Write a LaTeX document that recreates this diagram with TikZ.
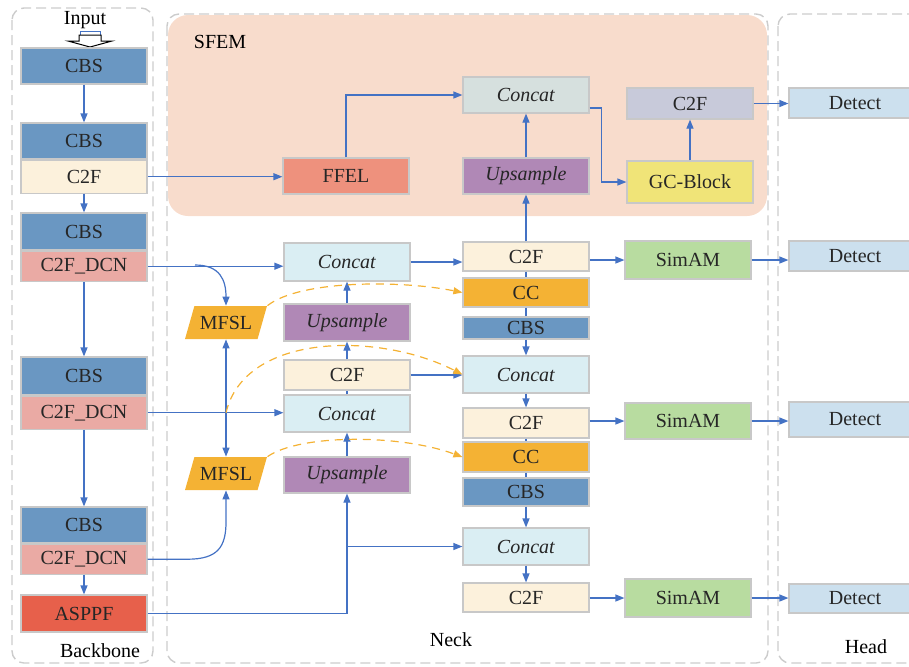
\documentclass[tikz,border=0pt]{standalone}
\usepackage{fontspec}
\setmainfont{Liberation Serif}
\usetikzlibrary{arrows.meta,positioning,shapes.geometric}

\definecolor{lineblue}{RGB}{68,114,196}
\definecolor{boxgray}{RGB}{200,200,200}
\definecolor{framegray}{RGB}{204,204,204}
\definecolor{sfembg}{RGB}{248,220,204}
\definecolor{cbsblue}{RGB}{106,151,194}
\definecolor{c2fcream}{RGB}{252,241,220}
\definecolor{dcnpink}{RGB}{234,170,164}
\definecolor{asppfred}{RGB}{231,96,75}
\definecolor{ffelred}{RGB}{238,145,125}
\definecolor{cattop}{RGB}{214,224,222}
\definecolor{catblue}{RGB}{218,238,243}
\definecolor{uppurple}{RGB}{176,136,182}
\definecolor{gcyellow}{RGB}{240,228,120}
\definecolor{c2flav}{RGB}{200,202,218}
\definecolor{ccorange}{RGB}{244,178,52}
\definecolor{simgreen}{RGB}{184,220,160}
\definecolor{detblue}{RGB}{204,224,238}

\begin{document}
\begin{tikzpicture}[x=0.5pt,y=-0.5pt,
  font=\fontsize{10}{12}\selectfont,
  blk/.style={draw=boxgray, line width=0.6pt, minimum width=63pt, inner sep=0pt, text=black!85},
  detbox/.style={blk, fill=detblue, minimum width=66pt},
  para/.style={trapezium, trapezium left angle=60, trapezium right angle=120, trapezium stretches=true,
    minimum width=41pt, minimum height=16.5pt, inner sep=0pt, fill=ccorange, text=black!85},
  frame/.style={draw=framegray, line width=0.7pt, dash pattern=on 5pt off 2.5pt, rounded corners=6pt},
  plain/.style={draw=lineblue, line width=0.6pt},
  arr/.style={plain, -{Triangle[length=4.5pt,width=3.5pt]}},
  biarr/.style={plain, {Triangle[length=4.5pt,width=3.5pt]}-{Triangle[length=4.5pt,width=3.5pt]}},
  dasharr/.style={draw=ccorange, line width=0.6pt, dash pattern=on 4pt off 3pt, -{Triangle[length=4.5pt,width=3.5pt]}}
]
\useasboundingbox (0,0) rectangle (909,666);
\clip (0,0) rectangle (909,666);

% SFEM panel and frames
\fill[sfembg, rounded corners=10pt] (168,15) rectangle (767,216);
\draw[frame] (12,8) rectangle (153,663);
\draw[frame] (167,14) rectangle (768,663);
\draw[frame] (778,14) rectangle (940,663);
\node (sfem) at (220,42) {SFEM};
\node (bb) at (100,651) {Backbone};
\node (nk) at (451,640) {Neck};
\node (hd) at (866,647) {Head};

% Backbone
\node (input) at (85,20) {Input};
\draw[lineblue, fill=white, line width=0.5pt] (80,31) rectangle (100,35);
\draw[fill=white, line width=0.5pt] (79,35) -- (101,35) -- (101,41) -- (112,41) -- (90,47) -- (68,41) -- (79,41) -- cycle;
\node[blk, fill=cbsblue, minimum height=18pt] (cbs1) at (84,66) {CBS};
\node[blk, fill=cbsblue, minimum height=18pt] (cbs2) at (84,141) {CBS};
\node[blk, fill=c2fcream, minimum height=16.5pt, below=0pt of cbs2] (c2f1) {C2F};
\node[blk, fill=cbsblue, minimum height=18.5pt] (cbs3) at (84,231.5) {CBS};
\node[blk, fill=dcnpink, minimum height=15pt, below=0pt of cbs3] (dcn1) {C2F\_DCN};
\node[blk, fill=cbsblue, minimum height=19pt] (cbs4) at (84,376) {CBS};
\node[blk, fill=dcnpink, minimum height=16.5pt, below=0pt of cbs4] (dcn2) {C2F\_DCN};
\node[blk, fill=cbsblue, minimum height=18pt] (cbs5) at (84,525) {CBS};
\node[blk, fill=dcnpink, minimum height=15pt, below=0pt of cbs5] (dcn3) {C2F\_DCN};
\node[blk, fill=asppfred, minimum height=18.5pt] (asppf) at (84,613.5) {ASPPF};

\draw[arr] (cbs1) -- (cbs2);
\draw[arr] (c2f1) -- (cbs3);
\draw[arr] (dcn1) -- (cbs4);
\draw[arr] (dcn2) -- (cbs5);
\draw[arr] (dcn3) -- (asppf);

% Neck, left column
\node[blk, fill=ffelred, minimum height=18pt] (ffel) at (346,176) {FFEL};
\node[blk, fill=catblue, minimum height=19pt] (cat1) at (347,262) {\textit{Concat}};
\node[blk, fill=uppurple, minimum height=18.5pt] (up1) at (347,322.5) {\textit{Upsample}};
\node[blk, fill=c2fcream, minimum height=15pt] (c2fm) at (347,375) {C2F};
\node[blk, fill=catblue, minimum height=18.5pt] (cat2) at (347,413.5) {\textit{Concat}};
\node[blk, fill=uppurple, minimum height=18pt] (up2) at (347,475) {\textit{Upsample}};
\node[para] (mfsl1) at (226,322.5) {MFSL};
\node[para] (mfsl2) at (226,473.5) {MFSL};

% Neck, middle column
\node[blk, fill=cattop, minimum height=18pt] (cat0) at (526,95) {\textit{Concat}};
\node[blk, fill=uppurple, minimum height=18pt] (up0) at (526,176) {\textit{Upsample}};
\node[blk, fill=c2fcream, minimum height=14.5pt] (c2fa) at (526,256.5) {C2F};
\node[blk, fill=ccorange, minimum height=14.5pt] (cca) at (526,292.5) {CC};
\node[blk, fill=cbsblue, minimum height=11pt] (cbsa) at (526,328) {CBS};
\node[blk, fill=catblue, minimum height=18.5pt] (catb) at (526,374.5) {\textit{Concat}};
\node[blk, fill=c2fcream, minimum height=15pt] (c2fb) at (526,423) {C2F};
\node[blk, fill=ccorange, minimum height=15pt] (ccb) at (526,457) {CC};
\node[blk, fill=cbsblue, minimum height=14pt] (cbsb) at (526,492) {CBS};
\node[blk, fill=catblue, minimum height=18.5pt] (catc) at (526,546.5) {\textit{Concat}};
\node[blk, fill=c2fcream, minimum height=14.5pt] (c2fc) at (526,597.5) {C2F};

% Neck, right column
\node[blk, fill=c2flav, minimum height=15.5pt] (c2ft) at (690,103.5) {C2F};
\node[blk, fill=gcyellow, minimum height=21pt] (gc) at (690,182) {GC-Block};
\node[blk, fill=simgreen, minimum height=19pt] (sim1) at (688,260) {SimAM};
\node[blk, fill=simgreen, minimum height=18pt] (sim2) at (688,421) {SimAM};
\node[blk, fill=simgreen, minimum height=19pt] (sim3) at (688,598) {SimAM};

% Head
\node[detbox, minimum height=15pt] (det0) at (855,103) {Detect};
\node[detbox, minimum height=15pt] (det1) at (855,256) {Detect};
\node[detbox, minimum height=17.5pt] (det2) at (855,419.5) {Detect};
\node[detbox, minimum height=14.5pt] (det3) at (855,598.5) {Detect};

% SFEM connections
\draw[arr] (c2f1.east) -- (c2f1.east -| ffel.west);
\draw[arr] (ffel.north) |- (cat0.west);
\draw[arr] (up0) -- (cat0);
\draw[arr] ([yshift=-6.5pt]cat0.east) -- ++(12,0) |- (gc.west);
\draw[arr] (gc) -- (c2ft);
\draw[arr] (c2ft.east) -- (c2ft.east -| det0.west);
\draw[arr] (c2fa) -- (up0);

% backbone to neck
\coordinate (j1) at (195,265);
\coordinate (j2) at (mfsl1.south |- dcn2.east);
\coordinate (k3) at (226,522);
\draw[arr] (dcn1.east) -- (dcn1.east -| cat1.west);
\draw[arr] (j1) .. controls (220,265) and (226,280) .. (mfsl1.north);
\draw[biarr] (mfsl1.south) -- (mfsl2.north);
\draw[arr] (dcn2.east) -- (dcn2.east -| cat2.west);
\draw[arr] (dcn3.east) -- ++(40,0) .. controls +(30,0) and +(0,25) .. (k3) -- (mfsl2.south);
\draw[arr] (asppf.east) -| (up2.south);
\draw[arr] (up2.south |- catc.west) -- (catc.west);

% left column flow
\draw[arr] (up2) -- (cat2);
\draw[plain] (cat2) -- (c2fm);
\draw[arr] (c2fm) -- (up1);
\draw[arr] (up1) -- (cat1);
\draw[arr] (cat1.east) -- (cat1.east -| c2fa.west);
\draw[arr] (c2fm.east) -- (c2fm.east -| catb.west);

% middle column flow
\draw[plain] (c2fa) -- (cca);
\draw[plain] (cca) -- (cbsa);
\draw[arr] (cbsa) -- (catb);
\draw[arr] (catb) -- (c2fb);
\draw[plain] (c2fb) -- (ccb);
\draw[plain] (ccb) -- (cbsb);
\draw[arr] (cbsb) -- (catc);
\draw[arr] (catc) -- (c2fc);

% to SimAM and Detect
\draw[arr] (c2fa.east |- sim1.west) -- (sim1.west);
\draw[arr] (c2fb.east |- sim2.west) -- (sim2.west);
\draw[arr] (c2fc.east |- sim3.west) -- (sim3.west);
\draw[arr] (sim1.east) -- (sim1.east -| det1.west);
\draw[arr] (sim2.east) -- (sim2.east -| det2.west);
\draw[arr] (sim3.east) -- (sim3.east -| det3.west);

% MFSL feature links
\draw[dasharr] (mfsl1.top right corner) .. controls (300,280) and (400,280) .. (cca.west);
\draw[dasharr] (j2) .. controls (245,332) and (380,332) .. (catb.west);
\draw[dasharr] (mfsl2.top right corner) .. controls (300,434) and (400,434) .. (ccb.west);
\end{tikzpicture}
\end{document}
